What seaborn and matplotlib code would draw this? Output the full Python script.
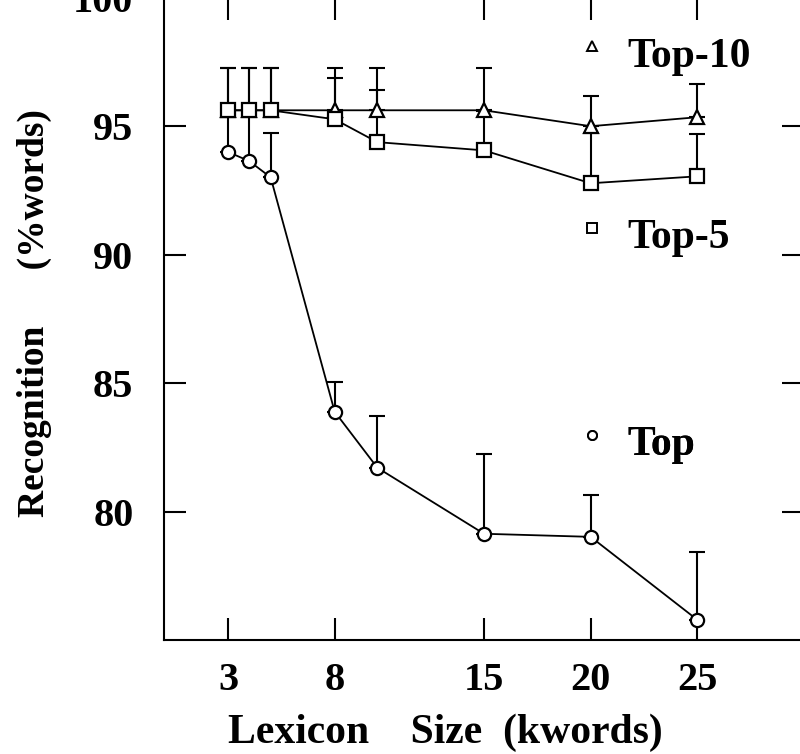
import matplotlib
matplotlib.use('Agg')
import matplotlib.pyplot as plt
from matplotlib.lines import Line2D
import numpy as np
import pandas as pd
import seaborn as sns

# lexicon size (kwords)
sizes = [3, 4, 5, 8, 10, 15, 20, 25]

# recognition rate (% words)
top10 = [95.62, 95.62, 95.62, 95.62, 95.62, 95.62, 95.0, 95.35]
top5 = [95.62, 95.62, 95.62, 95.27, 94.38, 94.06, 92.78, 93.05]
top1 = [94.0, 93.64, 93.01, 83.89, 81.71, 79.14, 79.02, 75.79]

# upper error bars
top10_err = [1.64, 1.64, 1.64, 1.64, 1.64, 1.64, 1.17, 1.29]
top5_err = [1.64, 1.64, 1.64, 1.6, 2.02, 1.55, 1.95, 1.64]
top1_err = [1.35, 2.0, 1.72, 1.17, 2.03, 3.12, 1.64, 2.65]

series_names = ['Top-10', 'Top-5', 'Top']
series_markers = {'Top-10': '^', 'Top-5': 's', 'Top': 'o'}

xticks = [3, 8, 15, 20, 25]
yticks = [80, 85, 90, 95, 100]

df = pd.DataFrame({
    'size': sizes * 3,
    'recog': top10 + top5 + top1,
    'err': top10_err + top5_err + top1_err,
    'series': np.repeat(series_names, len(sizes)),
})

sns.set_theme(style='ticks')
plt.rcParams['font.family'] = ['Liberation Serif', 'DejaVu Serif']
plt.rcParams['font.weight'] = 'bold'
plt.rcParams['text.color'] = 'black'
plt.rcParams['axes.labelcolor'] = 'black'
plt.rcParams['xtick.color'] = 'black'
plt.rcParams['ytick.color'] = 'black'

fig = plt.figure(figsize=(8, 7.54), dpi=100)
ax = fig.add_axes([0.205, 0.151, 0.8, 0.852])

for name in series_names:
    sub = df[df['series'] == name]
    ax.errorbar(sub['size'], sub['recog'],
                yerr=[np.zeros(len(sub)), sub['err']],
                fmt='none', ecolor='black', elinewidth=1.5,
                capsize=6, capthick=1.5, zorder=1)

sns.lineplot(data=df, x='size', y='recog', style='series',
             markers=series_markers, dashes=False, color='black',
             linewidth=1.3, markersize=9.5, markerfacecolor='white',
             markeredgecolor='black', markeredgewidth=1.6,
             legend=False, ax=ax, zorder=2)

ax.set_xlim(0, 30)
ax.set_ylim(75, 100)
ax.set_xticks(xticks)
ax.set_yticks(yticks)
ax.tick_params(direction='in', length=16, width=1.5, top=True, right=True,
               labelsize=29, color='black', labelcolor='black')
ax.tick_params(axis='y', pad=22)
ax.tick_params(axis='x', pad=16)
for lab in ax.get_xticklabels() + ax.get_yticklabels():
    lab.set_fontweight('bold')
for sp in ax.spines.values():
    sp.set_linewidth(1.5)
    sp.set_color('black')

ax.set_xlabel('Lexicon    Size  (kwords)', fontsize=30, fontweight='bold')
ax.set_ylabel('Recognition      (%words)', fontsize=27, fontweight='bold')
ax.xaxis.set_label_coords(0.44, -0.115)
ax.yaxis.set_label_coords(-0.175, 0.509)

# one legend per series, placed beside the curves
legend_y = {'Top-10': 0.914, 'Top-5': 0.632, 'Top': 0.309}
for name in series_names:
    handle = Line2D([], [], linestyle='none', marker=series_markers[name],
                    markersize=6.5, markerfacecolor='white',
                    markeredgecolor='black', markeredgewidth=1.4)
    leg = ax.legend([handle], [name], loc='center left',
                    bbox_to_anchor=(0.6525, legend_y[name]),
                    frameon=False, borderpad=0, borderaxespad=0,
                    handlelength=0.5, handletextpad=0.61, handleheight=1.6,
                    prop={'size': 30, 'weight': 'bold'})
    ax.add_artist(leg)

fig.savefig('out.png', dpi=100)
